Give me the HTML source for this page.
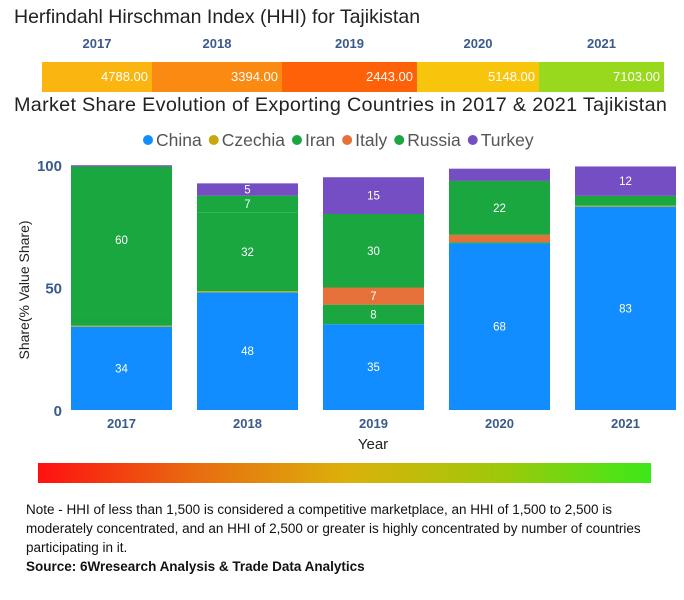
<!DOCTYPE html>
<html><head><meta charset="utf-8"><style>
body{margin:0;width:684px;height:600px;background:#fff;font-family:"Liberation Sans",sans-serif;overflow:hidden;position:relative}
.abs{position:absolute}
</style></head><body>
<div class="abs" style="left:14px;top:6px;font-size:19.5px;color:#222">Herfindahl Hirschman Index (HHI) for Tajikistan</div>
<div id="hhi"></div>
<div class="abs" style="left:14px;top:94px;font-size:19.8px;color:#222;letter-spacing:0.3px">Market Share Evolution of Exporting Countries in 2017 &amp; 2021 Tajikistan</div>
<svg id="chart" class="abs" style="left:0;top:120px" width="684" height="340"></svg>
<div class="abs" style="left:38px;top:463px;width:613px;height:20px;background:linear-gradient(to right,#ff1010,#e86a10,#dcb00a,#a0c80a,#3ce81a)"></div>
<div class="abs" style="left:26px;top:500px;width:650px;font-size:13.5px;line-height:19px;color:#111">Note - HHI of less than 1,500 is considered a competitive marketplace, an HHI of 1,500 to 2,500 is moderately concentrated, and an HHI of 2,500 or greater is highly concentrated by number of countries participating in it.<br><b>Source: 6Wresearch Analysis &amp; Trade Data Analytics</b></div>
<script>
const hhiYears=["2017","2018","2019","2020","2021"];
const hhiValues=[4788,3394,2443,5148,7103];
const hhiColors=["#fbb511","#fb8a12","#fd6209","#f6c50c","#98d91e"];
const hhiEdges=[42,152,282,417,539,664];
const hhi=document.getElementById('hhi');
hhiYears.forEach((y,i)=>{
 const l=document.createElement('div');l.className='abs';
 
 
 l.style.cssText=`left:${hhiEdges[i]}px;width:${hhiEdges[i+1]-hhiEdges[i]}px;top:36px;text-align:center;font-weight:bold;font-size:13px;color:#3a5a8c`;
 l.textContent=y;hhi.appendChild(l);
 const s=document.createElement('div');s.className='abs';
 
 
 s.style.cssText=`left:${hhiEdges[i]}px;width:${hhiEdges[i+1]-hhiEdges[i]-4}px;padding-right:4px;top:62px;height:30px;line-height:30px;background:${hhiColors[i]};color:#fff;text-align:right;font-size:13px`;
 s.textContent=hhiValues[i].toFixed(2);hhi.appendChild(s);
});
const years=["2017","2018","2019","2020","2021"];
const seriesNames=["China","Czechia","Iran","Italy","Russia","Turkey"];
const china=[34,48,35,68,83];
const czechia=[0.4,0.5,0,0,0.4];
const iran=[5,32,8,0.5,4];
const italy=[0,0,7,3,0];
const russia=[60,7,30,22,0];
const turkey=[0.5,5,15,5,12];
const labels={0:[34,48,35,68,83],2:[null,32,8,null,null],3:[null,null,7,null,null],4:[60,7,30,22,null],5:[null,5,15,null,12]};
const series=[china,czechia,iran,italy,russia,turkey];
const colors=["#118dff","#c8a80a","#1aa73f","#e5703a","#1aa73f","#744ec2"];
const svg=document.getElementById('chart');const NS='http://www.w3.org/2000/svg';
const y0=290,k=2.45;
const yS=v=>y0-v*k;
const xS=i=>71+i*126;const bw=101;
function el(t,a,txt){const e=document.createElementNS(NS,t);for(const n in a)e.setAttribute(n,a[n]);if(txt!=null)e.textContent=txt;svg.appendChild(e);return e;}
let lx=148;
seriesNames.forEach((n,i)=>{
 const c=el('circle',{cx:lx,cy:20,r:5,fill:colors[i]});
 
 
 const t=el('text',{x:lx+8,y:26,'font-size':17.5,fill:'#555'},n);
 
 
 lx+=8+t.getComputedTextLength()+12;
});
[0,50,100].forEach(v=>{const t=el('text',{x:62,y:yS(v)+6,'text-anchor':'end','font-size':15,'font-weight':'bold',fill:'#3a5a8c'},v);
 });
years.forEach((yr,i)=>{
 let acc=0;
 series.forEach((s,j)=>{
  const v=s[i];if(v<=0)return;
  const r=el('rect',{x:xS(i),y:yS(acc+v),width:bw,height:v*k,fill:colors[j]});
  
  
  const lab=labels[j]&&labels[j][i];
  if(lab!=null){const t=el('text',{x:xS(i)+bw/2,y:yS(acc+v/2)+4,'text-anchor':'middle','font-size':11.5,fill:'#fff'},lab);
   }
  acc+=v;
 });
 const t=el('text',{x:xS(i)+bw/2,y:y0+18,'text-anchor':'middle','font-size':13,'font-weight':'bold',fill:'#3a5a8c'},yr);
 
});
const xt=el('text',{x:373,y:329,'text-anchor':'middle','font-size':15,fill:'#222'},'Year');

const yt=el('text',{x:0,y:0,'text-anchor':'middle','font-size':14,fill:'#222',transform:'translate(29,170) rotate(-90)'},'Share(% Value Share)');

</script>
</body></html>
